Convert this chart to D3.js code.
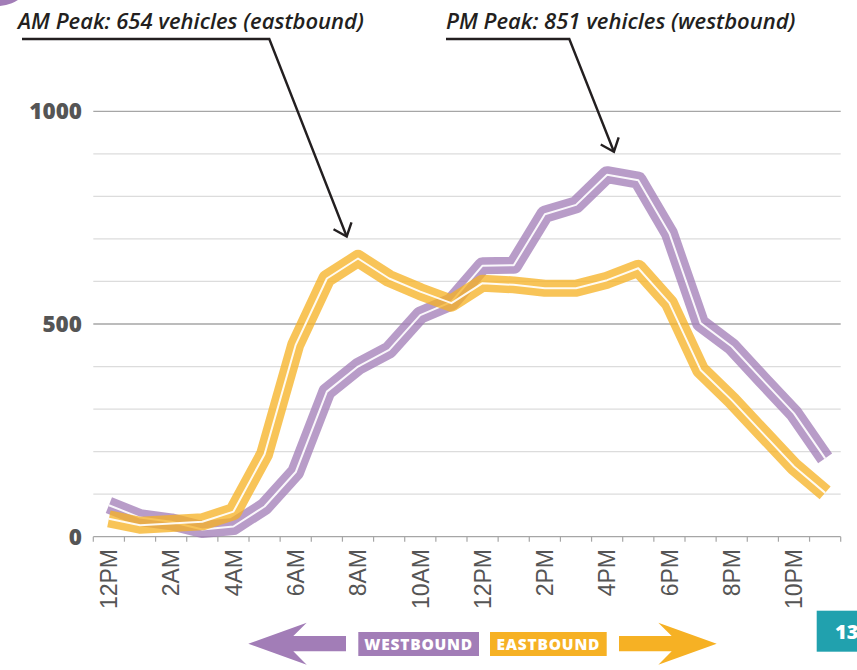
<!DOCTYPE html>
<html>
<head>
<meta charset="utf-8">
<script src="https://cdn.jsdelivr.net/npm/d3@7"></script>
<style>
  html, body { margin: 0; padding: 0; background: #fff; }
  svg { display: block; }
</style>
</head>
<body>
<svg id="chart" width="857" height="670"></svg>
<script>
// Hourly vehicle counts, one entry per hour starting at midnight
const hourLabels = ["12PM","1AM","2AM","3AM","4AM","5AM","6AM","7AM","8AM","9AM","10AM","11AM",
                    "12PM","1PM","2PM","3PM","4PM","5PM","6PM","7PM","8PM","9PM","10PM","11PM"];
const westbound = [74, 45, 35, 17, 24, 71, 152, 341, 400, 439, 521, 552,
                   637, 638, 758, 780, 851, 838, 713, 502, 447, 368, 290, 184];
const eastbound = [42, 27, 31, 35, 59, 194, 451, 607, 654, 607, 576, 549,
                   596, 592, 584, 584, 603, 631, 549, 392, 321, 243, 165, 103];
const yTickLabels = [0, 500, 1000];
const gridValues = d3.range(100, 1001, 100);
const labelledHours = d3.range(0, 24, 2);

const colors = { west: "#a27db7", east: "#f6b124", teal: "#21a1ae", ink: "#231f20", axis: "#555" };

const svg = d3.select("#chart");

// decorative corner disc
svg.append("circle").attr("cx", -2).attr("cy", -30).attr("r", 36).attr("fill", colors.west);

const x = d3.scaleBand().domain(d3.range(24)).range([93.3, 840.7]).padding(0);
const y = d3.scaleLinear().domain([0, 1000]).range([536.7, 111.3]);
const cx = i => x(i) + x.bandwidth() / 2;

// gridlines
svg.append("g").selectAll("line").data(gridValues).join("line")
  .attr("x1", 93.3).attr("x2", 840.7)
  .attr("y1", d => y(d)).attr("y2", d => y(d))
  .attr("stroke", d => d % 500 === 0 ? "#a6a6a6" : "#dcdcdc")
  .attr("stroke-width", d => d % 500 === 0 ? 1.3 : 1.2);

// x axis line with ticks at hour boundaries
const axisG = svg.append("g");
axisG.append("line")
  .attr("x1", 93.3).attr("x2", 840.7).attr("y1", y(0)).attr("y2", y(0))
  .attr("stroke", "#a6a6a6").attr("stroke-width", 1.3);
axisG.selectAll("line.tick").data(d3.range(25)).join("line")
  .attr("class", "tick")
  .attr("x1", i => x(0) + i * x.step()).attr("x2", i => x(0) + i * x.step())
  .attr("y1", y(0)).attr("y2", y(0) + 5)
  .attr("stroke", "#a6a6a6").attr("stroke-width", 1.2);

axisG.selectAll("text").data(labelledHours).join("text")
  .attr("transform", i => `translate(${cx(i)},549) rotate(-90)`)
  .attr("text-anchor", "end")
  .attr("dy", "0.36em")
  .attr("font-family", "'Liberation Sans', Arial, sans-serif")
  .attr("font-size", 23)
  .attr("fill", colors.axis)
  .text(i => hourLabels[i]);

// y labels
svg.append("g").selectAll("text").data(yTickLabels).join("text")
  .attr("x", 82).attr("y", d => y(d)).attr("dy", "0.36em")
  .attr("text-anchor", "end")
  .attr("font-family", "'Open Sans', sans-serif")
  .attr("font-weight", 800)
  .attr("font-size", 22.5)
  .attr("fill", colors.axis)
  .text(d => d);

// series lines: wide translucent band with a thin white core
const line = d3.line().x((d, i) => cx(i)).y(d => y(d));
[[westbound, colors.west], [eastbound, colors.east]].forEach(([vals, col]) => {
  const g = svg.append("g");
  g.append("path").attr("d", line(vals))
    .attr("fill", "none").attr("stroke", col).attr("stroke-opacity", 0.76)
    .attr("stroke-width", 17).attr("stroke-linejoin", "round").attr("stroke-linecap", "butt");
  g.append("path").attr("d", line(vals))
    .attr("fill", "none").attr("stroke", "#fff").attr("stroke-opacity", 0.92)
    .attr("stroke-width", 2).attr("stroke-linejoin", "round");
});

// peak callouts
function callout(text, tx, lineStart, elbowX, peakIdx, peakVal, tipDx, tipGap) {
  const g = svg.append("g");
  g.append("text").attr("x", tx).attr("y", 29)
    .attr("font-family", "'Open Sans', sans-serif")
    .attr("font-style", "italic").attr("font-weight", 600)
    .attr("font-size", 22).attr("fill", colors.ink)
    .text(text);
  const tipX = cx(peakIdx) + tipDx, tipY = y(peakVal) - tipGap;
  g.append("path")
    .attr("d", `M${lineStart},39 L${elbowX},39 L${tipX},${tipY}`)
    .attr("fill", "none").attr("stroke", colors.ink).attr("stroke-width", 2.4);
  const ang = Math.atan2(39 - tipY, elbowX - tipX);
  const len = 15, spread = 40 * Math.PI / 180;
  const a1 = ang + spread, a2 = ang - spread;
  g.append("path")
    .attr("d", `M${tipX + len * Math.cos(a1)},${tipY + len * Math.sin(a1)} L${tipX},${tipY} L${tipX + len * Math.cos(a2)},${tipY + len * Math.sin(a2)}`)
    .attr("fill", "none").attr("stroke", colors.ink).attr("stroke-width", 2.4);
}
callout("AM Peak: 654 vehicles (eastbound)", 18, 22, 269.3, 8, 654, -11.3, 22);
callout("PM Peak: 851 vehicles (westbound)", 446, 446, 569.3, 16, 851, 6.8, 23);

// legend arrows and labels
const legend = svg.append("g");
legend.append("path")
  .attr("d", "M248.3,643.7 L306.7,622.7 L293.3,636 L346,636 L346,651.3 L293.3,651.3 L306.7,664.7 Z")
  .attr("fill", colors.west);
legend.append("path")
  .attr("d", "M716.7,643.7 L658.3,622.7 L671.7,636 L619,636 L619,651.3 L671.7,651.3 L658.3,664.7 Z")
  .attr("fill", colors.east);
[["WESTBOUND", 358.3, 479, colors.west], ["EASTBOUND", 490, 606.7, colors.east]].forEach(([t, x0, x1, c]) => {
  legend.append("rect").attr("x", x0).attr("y", 632).attr("width", x1 - x0).attr("height", 24).attr("fill", c);
  legend.append("text").attr("x", (x0 + x1) / 2).attr("y", 644).attr("dy", "0.36em")
    .attr("text-anchor", "middle")
    .attr("font-family", "'Open Sans', sans-serif").attr("font-weight", 800)
    .attr("font-size", 15.5).attr("letter-spacing", 0.8).attr("fill", "#fff")
    .text(t);
});

// page number tab
svg.append("rect").attr("x", 816.7).attr("y", 610.7).attr("width", 60).attr("height", 41).attr("fill", colors.teal);
svg.append("text").attr("x", 835).attr("y", 632).attr("dy", "0.36em")
  .attr("font-family", "'Open Sans', sans-serif").attr("font-weight", 800)
  .attr("font-size", 20).attr("fill", "#fff").text("13");
</script>
</body>
</html>
